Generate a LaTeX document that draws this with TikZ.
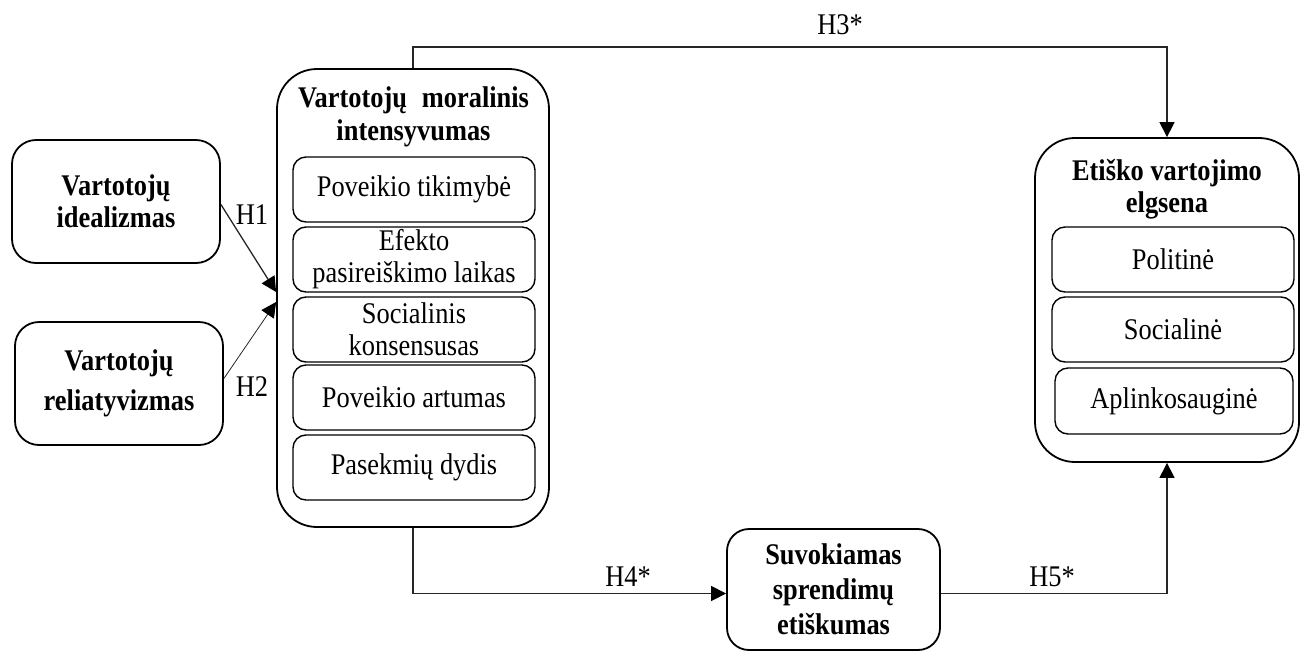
\documentclass[tikz,border=0pt]{standalone}
\usepackage{fontspec}
\setmainfont{Liberation Serif}[FakeStretch=0.88]
\usetikzlibrary{arrows.meta}
\begin{document}
\begin{tikzpicture}[x=1pt,y=-1pt,
  box/.style={draw, line width=1.8pt, rounded corners=24pt, inner sep=0pt, align=center,
    font=\bfseries\fontsize{30}{32}\selectfont},
  frame/.style={draw, line width=1.8pt, rounded corners=40pt, inner sep=0pt},
  title/.style={inner sep=0pt, align=center, font=\bfseries\fontsize{30}{32}\selectfont},
  item/.style={draw, line width=1.4pt, rounded corners=13pt, inner sep=0pt,
    minimum width=242pt, minimum height=65pt, align=center,
    font=\fontsize{30}{32}\selectfont},
  conn/.style={line width=1.3pt, draw=black!85},
  arr/.style={conn, -{Triangle[length=15pt,width=15pt,color=black]}},
  hlab/.style={inner sep=0pt, font=\fontsize{30}{32}\selectfont}]
\useasboundingbox (0,0) rectangle (1301,654);

% independent variables
\node[box, minimum width=208pt, minimum height=123pt] (ideal) at (116,201.5)
  {Vartotojų\\idealizmas};
\node[box, minimum width=208pt, minimum height=123pt] (relat) at (119,383.5)
  {Vartotojų\\[8pt]reliatyvizmas};

% moral intensity with its components
\node[frame, minimum width=272pt, minimum height=458pt] (moral) at (413,298) {};
\node[title, font=\bfseries\fontsize{30}{33}\selectfont] (moraltitle) at (413.5,116.5)
  {\makebox[231pt][s]{Vartotojų moralinis}\\intensyvumas};
\node[item] (m1) at (414,189.5) {Poveikio tikimybė};
\node[item] (m2) at (414,259.5) {Efekto\\pasireiškimo laikas};
\node[item] (m3) at (414,329.5) {Socialinis\\konsensusas};
\node[item] (m4) at (414,397.5) {Poveikio artumas};
\node[item] (m5) at (414,467.5) {Pasekmių dydis};

% ethical consumption behaviour with its forms
\node[frame, minimum width=264pt, minimum height=324pt] (ethic) at (1167,300) {};
\node[title] (ethictitle) at (1167,189) {Etiško vartojimo\\elgsena};
\node[item] (e1) at (1173,259.5) {Politinė};
\node[item] (e2) at (1173,329.5) {Socialinė};
\node[item, minimum width=238pt, minimum height=66pt] (e3) at (1174,401) {Aplinkosauginė};

% mediator
\node[box, rounded corners=22pt, minimum width=213pt, minimum height=121pt,
  font=\bfseries\fontsize{30}{35}\selectfont] (perc) at (833.5,589.5)
  {Suvokiamas\\sprendimų\\etiškumas};

% hypotheses
\draw[arr] ([yshift=-3pt]ideal.east) -- ([yshift=6pt]moral.west);
\draw[arr, line width=0.8pt] ([yshift=5pt]relat.east) -- ([yshift=-4pt]moral.west);
\draw[arr] (moral.north) -- ++(0,-21) -| (ethic.north);
\draw[arr] (moral.south) |- ([yshift=-4pt]perc.west);
\draw[arr] ([yshift=-4pt]perc.east) -| (ethic.south);

\node[hlab] (h1) at (252,215) {H1};
\node[hlab] (h2) at (252,387) {H2};
\node[hlab] (h3) at (840,25) {H3*};
\node[hlab] (h4) at (628,577) {H4*};
\node[hlab] (h5) at (1052,577) {H5*};
\end{tikzpicture}
\end{document}
